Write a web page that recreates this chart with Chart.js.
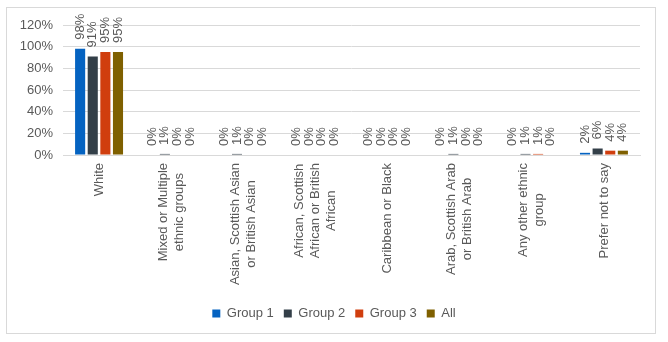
<!DOCTYPE html>
<html>
<head>
<meta charset="utf-8">
<script src="https://cdn.jsdelivr.net/npm/chart.js@4/dist/chart.umd.min.js"></script>
<style>
  body { margin: 0; background: #fff; }
  #wrap { position: relative; width: 668px; height: 342px; }
  #frame { position: absolute; left: 6px; top: 7px; width: 648px; height: 325px; border: 1px solid #d9d9d9; pointer-events: none; }
</style>
</head>
<body>
<div id="wrap">
  <canvas id="myChart" width="668" height="342"></canvas>
  <div id="frame"></div>
</div>
<script>
let categories = [
  ['White'],
  ['Mixed or Multiple', 'ethnic groups'],
  ['Asian, Scottish Asian', 'or British Asian'],
  ['African, Scottish', 'African or British', 'African'],
  ['Caribbean or Black'],
  ['Arab, Scottish Arab', 'or British Arab'],
  ['Any other ethnic', 'group'],
  ['Prefer not to say']
];
let group1 = [98, 0, 0, 0, 0, 0, 0, 2];
let group2 = [91, 1, 1, 0, 0, 1, 1, 6];
let group3 = [95, 0, 0, 0, 0, 0, 1, 4];
let allGroups = [95, 0, 0, 0, 0, 0, 0, 4];
let yTicks = [0, 20, 40, 60, 80, 100, 120];

let font = '"Liberation Sans", Arial, sans-serif';
let textColor = '#595959';

// value labels above each bar, rotated
let barLabels = {
  id: 'barLabels',
  afterDatasetsDraw(chart) {
    let ctx = chart.ctx;
    ctx.save();
    ctx.font = '13px ' + font;
    ctx.fillStyle = textColor;
    ctx.textAlign = 'left';
    ctx.textBaseline = 'middle';
    chart.data.datasets.forEach(function(ds, di) {
      chart.getDatasetMeta(di).data.forEach(function(bar, i) {
        ctx.save();
        ctx.translate(bar.x, bar.y - 9);
        ctx.rotate(-Math.PI / 2);
        ctx.fillText(Math.round(ds.data[i]) + '%', 0, 0);
        ctx.restore();
      });
    });
    ctx.restore();
  }
};

// category labels, rotated and centred line by line
let catLabels = {
  id: 'catLabels',
  afterDraw(chart) {
    let ctx = chart.ctx;
    let x = chart.scales.x;
    let top = chart.chartArea.bottom + 8;
    let lineH = 16;
    ctx.save();
    ctx.font = '13px ' + font;
    ctx.fillStyle = textColor;
    ctx.textAlign = 'center';
    ctx.textBaseline = 'middle';
    categories.forEach(function(lines, i) {
      let w = Math.max.apply(null, lines.map(function(l) { return ctx.measureText(l).width; }));
      let cx = x.getPixelForValue(i);
      let x0 = cx - (lines.length - 1) * lineH / 2;
      lines.forEach(function(l, j) {
        ctx.save();
        ctx.translate(x0 + j * lineH, top + w / 2);
        ctx.rotate(-Math.PI / 2);
        ctx.fillText(l, 0, 0);
        ctx.restore();
      });
    });
    ctx.restore();
  }
};

// centre the legend on the whole canvas, not on the padded box
let legendCentre = {
  id: 'legendCentre',
  afterLayout(chart) {
    if (chart.legend) {
      chart.legend.left = 0;
      chart.legend.right = chart.width;
      chart.legend.width = chart.width;
    }
  }
};

function makeSet(label, data, color) {
  return {
    label: label,
    data: data,
    backgroundColor: color,
    borderColor: color,
    borderWidth: 0,
    barPercentage: 0.8,
    categoryPercentage: 0.7
  };
}

let ctx = document.getElementById('myChart').getContext('2d');
let myChart = new Chart(ctx, {
  type: 'bar',
  data: {
    labels: categories.map(function(c) { return c.join(' '); }),
    datasets: [
      makeSet('Group 1', group1, '#0563c1'),
      makeSet('Group 2', group2, '#333f48'),
      makeSet('Group 3', group3, '#d03e0e'),
      makeSet('All', allGroups, '#7f6000')
    ]
  },
  options: {
    responsive: false,
    animation: false,
    layout: { padding: { left: 0, right: 28, top: 25, bottom: 12 } },
    plugins: {
      tooltip: { enabled: false },
      legend: {
        position: 'bottom',
        labels: {
          boxWidth: 8,
          boxHeight: 8,
          padding: 10,
          color: textColor,
          font: { family: font, size: 13 }
        }
      }
    },
    scales: {
      x: {
        grid: { display: false },
        border: { color: '#d9d9d9' },
        ticks: { display: false },
        afterFit: function(s) { s.height = 142; }
      },
      y: {
        min: 0,
        max: 120,
        afterBuildTicks: function(s) { s.ticks = yTicks.map(function(v) { return { value: v }; }); },
        grid: { color: '#d9d9d9', drawTicks: false },
        border: { display: false },
        ticks: {
          padding: 10,
          color: textColor,
          font: { family: font, size: 13 },
          callback: function(v) { return v + '%'; }
        },
        afterFit: function(s) { s.width = 63; }
      }
    }
  },
  plugins: [barLabels, catLabels, legendCentre]
});
</script>
</body>
</html>
